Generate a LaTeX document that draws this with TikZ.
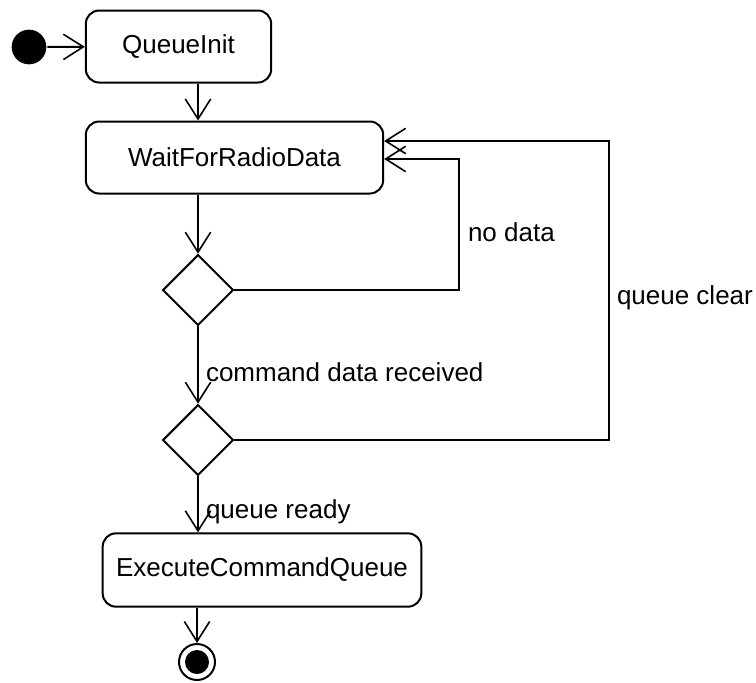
\documentclass[tikz,border=0pt]{standalone}
\usepackage{fontspec}
\setmainfont{Liberation Sans}
\usetikzlibrary{arrows.meta,shapes.geometric}

\begin{document}
\begin{tikzpicture}[x=0.75pt,y=-0.75pt,line width=1.5pt,
		font=\fontsize{19.5}{23}\selectfont,
		flow/.style={-{Straight Barb[length=15pt,width=19pt,line width=1.2pt]}},
		activity/.style={draw,rounded corners=10pt,minimum height=54pt,inner sep=0pt},
		choice/.style={draw,diamond,aspect=1,minimum size=53pt,inner sep=0pt},
		lbl/.style={anchor=west,inner sep=0pt}]
			\useasboundingbox (0,0) rectangle (756,682);
			\node[circle,fill,minimum size=26pt,inner sep=0pt] (start) at (29,47) {};
			\node[activity,minimum width=139pt] (qinit) at (178.5,46.5) {QueueInit};
			\node[activity,minimum width=223pt] (wait) at (234.5,157.5) {WaitForRadioData};
			\node[choice] (d1) at (198,290) {};
			\node[choice] (d2) at (198,440) {};
			\node[activity,minimum width=239pt,minimum height=55pt] (exec) at (262,570) {ExecuteCommandQueue};
			\node[circle,draw,minimum size=27pt,inner sep=0pt,
				path picture={\fill (path picture bounding box.center) circle (9pt);}] (fin) at (197,662) {};
			\coordinate (nodata) at (459,159);
			\coordinate (clear) at (609,141);
			
			\draw[flow] (start) -- (qinit);
			\draw[flow] (d1 |- qinit.south) -- (d1 |- wait.north);
			\draw[flow] (d1 |- wait.south) -- (d1.north);
			\draw[flow] (d1.south) -- (d2.north);
			\draw[flow] (d2.south) -- (d2 |- exec.north);
			\draw[flow] (fin |- exec.south) -- (fin.north);
			\draw[flow] (d1.east) -| (nodata) -- (nodata -| wait.east);
			\draw[flow] (d2.east) -| (clear) -- (clear -| wait.east);
			
			\node[lbl] (lnodata) at (467,232) {no data};
			\node[lbl] (lclear) at (616,298) {queue clear};
			\node[lbl] (lcmd) at (205,372) {command data received};
			\node[lbl] (lready) at (205,512) {queue ready};
		\end{tikzpicture}
\end{document}
